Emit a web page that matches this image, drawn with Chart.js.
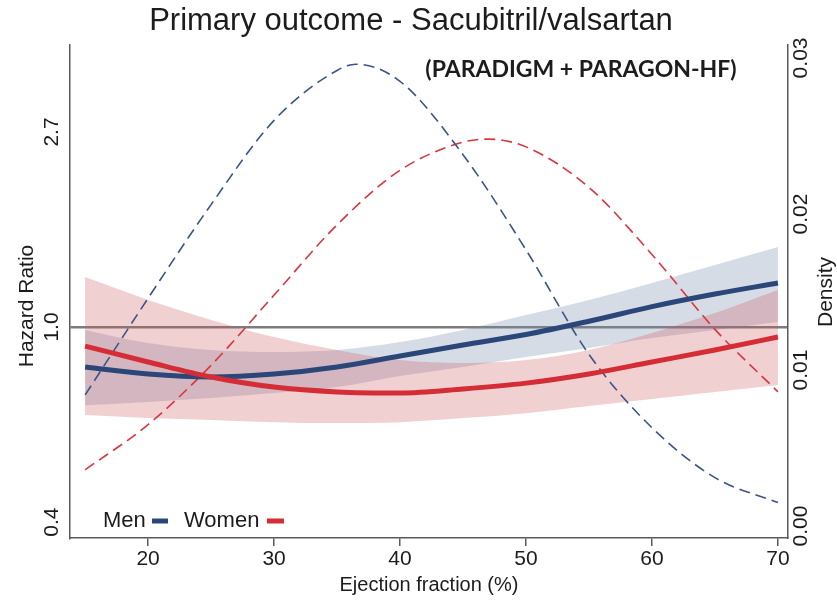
<!DOCTYPE html>
<html lang="en">
<head>
  <meta charset="UTF-8">
  <title>Primary outcome - Sacubitril/valsartan</title>
  <script src="https://cdn.jsdelivr.net/npm/chart.js"></script>
  <style>
    body { margin: 0; background: #fff; }
    canvas { display: block; }
  </style>
</head>
<body>
  <canvas id="chart" width="837" height="602"></canvas>

  <script>
    // Ejection fraction grid for the spline fits
    const efGrid = [15, 20, 25, 30, 35, 40, 45, 50, 55, 60, 65, 70];

    // Hazard ratios with 95% CI
    const menHR    = [0.815, 0.786, 0.774, 0.786, 0.815, 0.862, 0.912, 0.962, 1.030, 1.110, 1.184, 1.253];
    const menUpper = [0.985, 0.921, 0.889, 0.880, 0.889, 0.926, 0.985, 1.063, 1.149, 1.253, 1.374, 1.507];
    const menLower = [0.670, 0.681, 0.695, 0.713, 0.735, 0.778, 0.815, 0.857, 0.898, 0.945, 0.985, 1.026];

    const womenHR    = [0.907, 0.836, 0.774, 0.735, 0.717, 0.713, 0.728, 0.750, 0.786, 0.836, 0.889, 0.950];
    const womenUpper = [1.292, 1.149, 1.037, 0.950, 0.889, 0.844, 0.831, 0.844, 0.889, 0.970, 1.074, 1.209];
    const womenLower = [0.637, 0.627, 0.621, 0.614, 0.611, 0.614, 0.627, 0.643, 0.667, 0.691, 0.717, 0.743];

    // EF distribution (kernel density) by sex
    const menDensityEF = [15, 20, 25, 30, 35, 36.5, 40, 45, 50, 55, 60, 65, 70];
    const menDensity   = [0.0084, 0.0146, 0.0206, 0.0260, 0.0292, 0.0296, 0.0285, 0.0238, 0.0177, 0.0110, 0.0063, 0.0031, 0.0015];
    const womenDensityEF = [15, 20, 25, 30, 35, 40, 45, 47, 50, 55, 60, 65, 70];
    const womenDensity   = [0.0036, 0.0065, 0.0103, 0.0148, 0.0193, 0.0228, 0.0246, 0.0248, 0.0243, 0.0217, 0.0174, 0.0126, 0.0086];

    // Axis ticks (HR ticks sit at log HR = -1, 0, 1)
    const xTicks = [20, 30, 40, 50, 60, 70];
    const hrTicks = [0.3679, 1, 2.7183];
    const hrTickLabels = ['0.4', '1.0', '2.7'];
    const densityTicks = [0, 0.01, 0.02, 0.03];
    const densityTickLabels = ['0.00', '0.01', '0.02', '0.03'];

    const NAVY = '#2b4779';
    const RED = '#d52d36';
    const AXIS = '#5a5a5a';
    const INK = '#1c1c1c';
    const FONT = '"Liberation Sans", Arial, sans-serif';

    const pts = (xs, ys) => xs.map((x, i) => ({ x: x, y: ys[i] }));

    const lineStyle = { pointRadius: 0, tension: 0, cubicInterpolationMode: 'monotone' };

    // rotated labels, legend and titles drawn on top of the chart
    const decorations = {
      id: 'decorations',
      afterDraw(chart) {
        const { ctx, chartArea, scales } = chart;
        ctx.save();
        ctx.fillStyle = INK;
        ctx.textAlign = 'center';
        ctx.textBaseline = 'middle';

        ctx.font = '31px ' + FONT;
        ctx.fillText('Primary outcome - Sacubitril/valsartan', 411, 21);

        ctx.font = 'bold 23px Lato, "Open Sans", sans-serif';
        ctx.fillText('(PARADIGM + PARAGON-HF)', 581, 70, 318);

        const vText = (text, x, y) => {
          ctx.save();
          ctx.translate(x, y);
          ctx.rotate(-Math.PI / 2);
          ctx.fillText(text, 0, 0);
          ctx.restore();
        };

        ctx.font = '21px ' + FONT;
        hrTicks.forEach((v, i) => vText(hrTickLabels[i], 52, scales.y.getPixelForValue(v)));
        densityTicks.forEach((v, i) => vText(densityTickLabels[i], 801, scales.y1.getPixelForValue(v)));
        vText('Hazard Ratio', 27, 306);
        vText('Density', 826, 292);

        // legend
        const ly = chartArea.bottom - 17;
        ctx.font = '22px ' + FONT;
        ctx.textAlign = 'left';
        ctx.fillText('Men', 103, ly);
        ctx.fillText('Women', 184, ly);
        ctx.lineWidth = 5;
        ctx.strokeStyle = NAVY;
        ctx.beginPath(); ctx.moveTo(152, ly); ctx.lineTo(168, ly); ctx.stroke();
        ctx.strokeStyle = RED;
        ctx.beginPath(); ctx.moveTo(267, ly); ctx.lineTo(284, ly); ctx.stroke();
        ctx.restore();
      }
    };

    new Chart(document.getElementById('chart'), {
      type: 'line',
      data: {
        datasets: [
          { data: pts(efGrid, womenHR), borderColor: RED, borderWidth: 5, yAxisID: 'y', fill: false, ...lineStyle },
          { data: pts(efGrid, menHR), borderColor: NAVY, borderWidth: 5, yAxisID: 'y', fill: false, ...lineStyle },
          { data: pts(menDensityEF, menDensity), borderColor: '#3a5584', borderWidth: 1.6, borderDash: [11, 6], yAxisID: 'y1', fill: false, ...lineStyle },
          { data: pts(womenDensityEF, womenDensity), borderColor: '#d9353e', borderWidth: 1.6, borderDash: [11, 6], yAxisID: 'y1', fill: false, ...lineStyle },
          { data: pts(efGrid, womenUpper), borderWidth: 0, backgroundColor: 'rgba(205, 80, 90, 0.27)', fill: '+1', yAxisID: 'y', ...lineStyle },
          { data: pts(efGrid, womenLower), borderWidth: 0, fill: false, yAxisID: 'y', ...lineStyle },
          { data: pts(efGrid, menUpper), borderWidth: 0, backgroundColor: 'rgba(120, 140, 172, 0.3)', fill: '+1', yAxisID: 'y', ...lineStyle },
          { data: pts(efGrid, menLower), borderWidth: 0, fill: false, yAxisID: 'y', ...lineStyle }
        ]
      },
      options: {
        responsive: false,
        animation: false,
        layout: { padding: { top: 45, left: 0, right: 0, bottom: 0 } },
        plugins: { legend: { display: false }, tooltip: { enabled: false } },
        scales: {
          x: {
            type: 'linear',
            min: 13.8,
            max: 70.8,
            afterBuildTicks: s => { s.ticks = xTicks.map(v => ({ value: v })); },
            afterFit: s => { s.height = 64; },
            border: { color: AXIS, width: 1.5 },
            grid: { drawOnChartArea: false, color: AXIS, lineWidth: 1.5, tickLength: 8 },
            ticks: { color: INK, font: { size: 21, family: FONT }, padding: 1, maxRotation: 0 },
            title: { display: true, text: 'Ejection fraction (%)', color: INK, font: { size: 20, family: FONT }, padding: { top: 0, bottom: 5 } }
          },
          y: {
            type: 'logarithmic',
            position: 'left',
            bounds: 'data',
            min: 0.339,
            max: 4.246,
            afterBuildTicks: s => { s.ticks = hrTicks.map(v => ({ value: v })); },
            afterFit: s => { s.width = 70; },
            border: { color: AXIS, width: 1.5 },
            grid: {
              drawTicks: false,
              lineWidth: 2.5,
              color: c => (c.tick && c.tick.value === 1 ? '#7d7d7d' : 'rgba(0,0,0,0)')
            },
            ticks: { display: false }
          },
          y1: {
            type: 'linear',
            position: 'right',
            min: -0.00077,
            max: 0.03083,
            afterBuildTicks: s => { s.ticks = densityTicks.map(v => ({ value: v })); },
            afterFit: s => { s.width = 49; },
            border: { color: AXIS, width: 1.5 },
            grid: { display: false },
            ticks: { display: false }
          }
        }
      },
      plugins: [decorations]
    });
  </script>
</body>
</html>
